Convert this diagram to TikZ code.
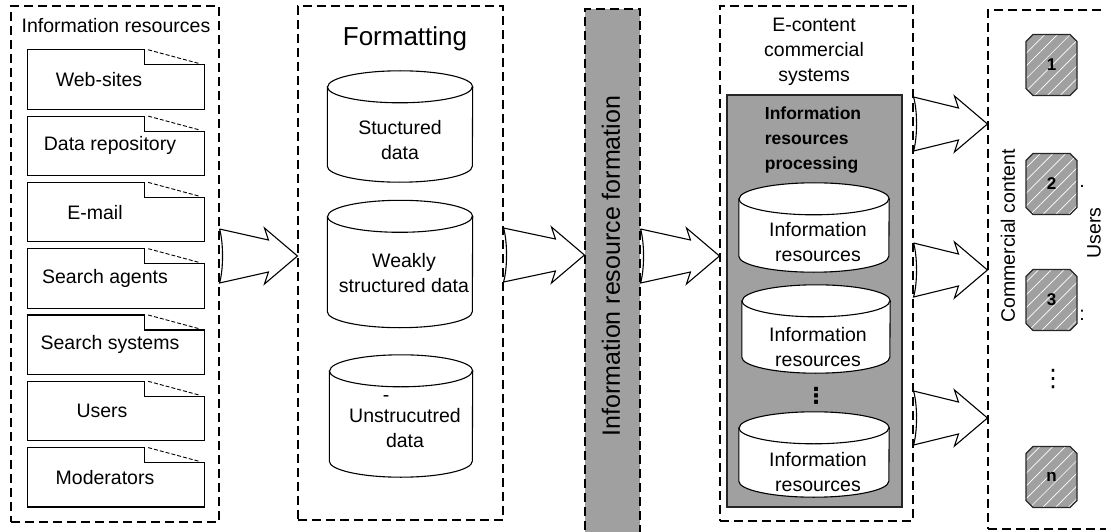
\documentclass[tikz,border=0pt]{standalone}
\usepackage{fontspec}
\setmainfont{Liberation Sans}
\newfontfamily\symfont{DejaVu Sans}
\usetikzlibrary{calc,shapes.misc,patterns.meta}

\definecolor{panelgray}{RGB}{160,160,160}

\tikzset{
  frame/.style={draw=black, line width=1.1pt, dash pattern=on 9pt off 5pt},
  docbox/.style={minimum width=176pt, minimum height=59pt},
  docline/.style={draw=black, line width=1.1pt},
  foldline/.style={draw=black, line width=0.9pt, dash pattern=on 4pt off 2pt},
  storeline/.style={draw=black, line width=1.1pt},
  userbox/.style={chamfered rectangle, chamfered rectangle xsep=3.5pt,
    minimum width=51pt, minimum height=61pt, draw=black!85, line width=1.2pt,
    preaction={fill=panelgray}, pattern={Lines[angle=45,distance=9pt,line width=0.7pt]},
    pattern color=white, font=\bfseries\fontsize{17}{20}\selectfont},
  hollow/.style={draw=black, line width=1.1pt, line join=miter}
}

% wide open arrow from the right side of #1 to the left side of #2, centred at height #3
\newcommand\hollowarrow[3]{%
  \draw[hollow] ($(#1.east |- 0,#3)+(0,-27)$) -- ($(#2.west |- 0,#3)+(-29,-16)$)
    -- ($(#2.west |- 0,#3)+(-33,-28)$) -- (#2.west |- 0,#3)
    -- ($(#2.west |- 0,#3)+(-33,28)$) -- ($(#2.west |- 0,#3)+(-29,16)$)
    -- ($(#1.east |- 0,#3)+(0,27)$)
    .. controls +(4,-14) and +(4,14) .. ($(#1.east |- 0,#3)+(0,-27)$);}

% drum outline round node #1, half width #2, cap radius #3
\newcommand\drawstore[3]{%
  \draw[storeline, fill=white] ($(#1.north west)+(0,#3)$) -- ($(#1.south west)+(0,-#3)$)
    arc[start angle=180, end angle=360, x radius=#2pt, y radius=#3pt]
    -- ($(#1.north east)+(0,#3)$)
    arc[start angle=0, end angle=180, x radius=#2pt, y radius=#3pt] -- cycle;
  \draw[storeline] ($(#1.north west)+(0,#3)$)
    arc[start angle=180, end angle=360, x radius=#2pt, y radius=#3pt];}

\begin{document}
\begin{tikzpicture}[x=1pt,y=-1pt,
    every node/.style={font=\fontsize{19.5}{25}\selectfont, inner sep=0pt}]
  \useasboundingbox (0,0) rectangle (1106,532);

  % the five stages
  \node[frame, minimum width=208pt, minimum height=516pt] (resources) at (115,264) {};
  \node[frame, minimum width=205pt, minimum height=514pt] (formatting) at (400.5,263) {};
  \node[frame, fill=panelgray, minimum width=55pt, minimum height=540pt] (formation) at (612.5,279) {};
  \node[frame, minimum width=193pt, minimum height=515pt] (econtent) at (816.5,263.5) {};
  \node[frame, minimum width=140pt, minimum height=519pt] (users) at (1058,269.5) {};

  \node (resources title) at (116,26) {Information resources};
  \node[font=\fontsize{26}{30}\selectfont] (formatting title) at (405,39) {Formatting};
  \node[rotate=90, font=\fontsize{25}{30}\selectfont] (formation title) at (611,266)
    {Information resource formation};
  \node[align=center] (econtent title) at (814,52) {E-content\\commercial\\systems};

  % sources
  \foreach \txt/\dx [count=\i] in {Web-sites/-17, Data repository/-6, E-mail/-21,
      Search agents/-11, Search systems/-6, Users/-14, Moderators/-11}{
    \node[docbox] (doc\i) at (116,79.5+66.3*\i-66.3) {};
    \draw[docline] (doc\i.south west) -- (doc\i.north west)
      -- ($(doc\i.north east)+(-60,0)$) -- ++(0,15)
      -- ($(doc\i.north east)+(0,15)$) -- (doc\i.south east) -- cycle;
    \draw[foldline] ($(doc\i.north east)+(-56,0)$) -- ($(doc\i.north east)+(-4,14)$);
    \node (doc\i text) at ($(doc\i.center)+(\dx,0)$) {\txt};
  }

  % data kinds
  \node[minimum width=145pt, minimum height=111pt] (structured) at (400,126.5) {};
  \node[minimum width=145pt, minimum height=127pt] (weakly) at (400,264) {};
  \node[minimum width=143pt, minimum height=122pt] (unstructured) at (401,416) {};
  \drawstore{structured}{72.5}{16}
  \drawstore{weakly}{72.5}{16}
  \drawstore{unstructured}{71.5}{16}
  \node[align=center] (structured text) at (400,140) {Stuctured\\data};
  \node[align=center] (weakly text) at (404,273.5) {Weakly\\structured data};
  \node (unstructured mark) at (386,399) {-};
  \node[align=center] (unstructured text) at (405,428.5) {Unstrucutred\\data};

  % processing block
  \node[draw=black!85, line width=1.6pt, fill=panelgray, minimum width=175pt,
    minimum height=412pt] (processing) at (814.5,301) {};
  \node[align=left, font=\bfseries\fontsize{17.5}{25}\selectfont] (processing title)
    at (813,140) {Information\\resources\\processing};
  \node[minimum width=150pt, minimum height=89pt] (store1) at (814,227.5) {};
  \node[minimum width=148pt, minimum height=88pt] (store2) at (816,329) {};
  \node[minimum width=150pt, minimum height=85pt] (store3) at (814,454.5) {};
  \drawstore{store1}{75}{16}
  \drawstore{store2}{74}{16}
  \drawstore{store3}{75}{16}
  \foreach \s/\yy in {1/242, 2/347.5, 3/472.5}
    \node[align=center] (store\s text) at (818,\yy) {Information\\resources};
  \node[font=\symfont\bfseries\fontsize{22}{22}\selectfont] (store dots) at (816,396) {⋮};

  % users
  \foreach \lbl/\yy in {1/65, 2/184, 3/300, n/477}
    \node[userbox] (user\lbl) at (1051.5,\yy) {\lbl};
  \node (user2 dot) at (1082,186) {.};
  \node (user3 dot) at (1082,315) {:};
  \node[font=\symfont\fontsize{24}{24}\selectfont] (users dots) at (1053,379) {⋮};
  \node[rotate=90] (content title) at (1008,236) {Commercial content};
  \node[rotate=90] (users title) at (1094,233) {Users};

  % flow between stages
  \hollowarrow{resources}{formatting}{256}
  \hollowarrow{formatting}{formation}{255}
  \hollowarrow{formation}{econtent}{256}
  \hollowarrow{econtent}{users}{124}
  \hollowarrow{econtent}{users}{270}
  \hollowarrow{econtent}{users}{418}
\end{tikzpicture}
\end{document}
